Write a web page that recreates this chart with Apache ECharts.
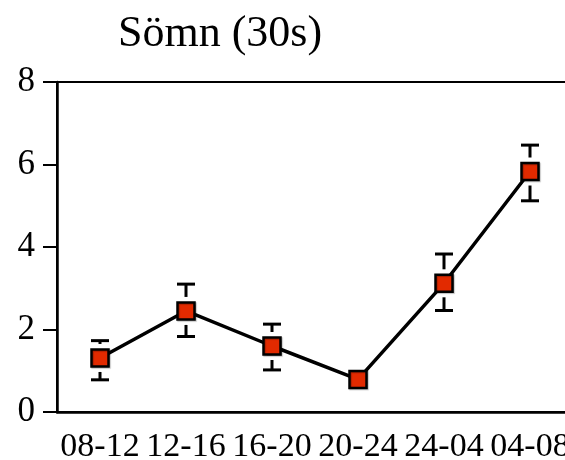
<!DOCTYPE html>
<html>
<head>
<meta charset="utf-8">
<script src="https://cdn.jsdelivr.net/npm/echarts@6/dist/echarts.min.js"></script>
<style>
  html, body { margin: 0; padding: 0; background: #fff; }
  #chart { width: 565px; height: 460px; }
</style>
</head>
<body>
<div id="chart"></div>
<script>
// Time-of-day blocks (hours)
const categories = ['08-12', '12-16', '16-20', '20-24', '24-04', '04-08'];
// Mean sleep (30 s epochs) per block
const meanValues = [1.31, 2.45, 1.60, 0.79, 3.12, 5.83];
// Error bar bounds
const lowerValues = [0.78, 1.83, 1.02, 0.67, 2.46, 5.12];
const upperValues = [1.73, 3.10, 2.13, 0.91, 3.83, 6.47];
const yTicks = [0, 2, 4, 6, 8];

const FONT = '"Liberation Serif", "Times New Roman", serif';
const MARKER = 17;

const errorData = categories.map((c, i) => [i, lowerValues[i], upperValues[i], meanValues[i]]);

const chart = echarts.init(document.getElementById('chart'), null, { renderer: 'canvas' });

chart.setOption({
  backgroundColor: '#ffffff',
  animation: false,
  title: {
    text: 'Sömn (30s)',
    left: 113,
    top: 7,
    textStyle: { fontFamily: FONT, fontSize: 44, fontWeight: 'normal', color: '#000' }
  },
  grid: {
    left: 57, top: 82, width: 516, height: 330,
    outerBoundsMode: 'none',
    containLabel: false,
    show: true, borderColor: '#000', borderWidth: 2, backgroundColor: 'transparent'
  },
  xAxis: {
    type: 'category',
    data: categories,
    boundaryGap: true,
    axisLine: { lineStyle: { color: '#000', width: 2.5 } },
    axisTick: { alignWithLabel: true, interval: 0, length: 14, lineStyle: { color: '#000', width: 2.5 } },
    axisLabel: { interval: 0, hideOverlap: false, fontFamily: FONT, fontSize: 34, color: '#000', margin: 18 },
    splitLine: { show: false }
  },
  yAxis: {
    type: 'value',
    min: yTicks[0],
    max: yTicks[yTicks.length - 1],
    interval: 2,
    axisLine: { show: true, lineStyle: { color: '#000', width: 2.5 } },
    axisTick: { show: true, length: 14, lineStyle: { color: '#000', width: 2 } },
    axisLabel: { fontFamily: FONT, fontSize: 35, color: '#000', margin: 22 },
    splitLine: { show: false }
  },
  series: [
    {
      type: 'custom',
      z: 1,
      data: errorData,
      renderItem: function (params, api) {
        const x = api.coord([api.value(0), 0])[0];
        const yLow = api.coord([api.value(0), api.value(1)])[1];
        const yHigh = api.coord([api.value(0), api.value(2)])[1];
        const yMid = api.coord([api.value(0), api.value(3)])[1];
        const half = 9, gap = 14;
        const style = { stroke: '#000', lineWidth: 3 };
        if (yLow - yHigh < 2 * gap) {
          return { type: 'group', children: [] };
        }
        const children = [
          { type: 'line', shape: { x1: x - half, y1: yHigh, x2: x + half, y2: yHigh }, style },
          { type: 'line', shape: { x1: x - half, y1: yLow, x2: x + half, y2: yLow }, style }
        ];
        if (yMid - gap > yHigh) {
          children.push({ type: 'line', shape: { x1: x, y1: yHigh, x2: x, y2: yMid - gap }, style });
        }
        if (yMid + gap < yLow) {
          children.push({ type: 'line', shape: { x1: x, y1: yLow, x2: x, y2: yMid + gap }, style });
        }
        return { type: 'group', children };
      }
    },
    {
      type: 'line',
      z: 3,
      data: meanValues,
      symbol: 'rect',
      symbolSize: MARKER,
      lineStyle: { color: '#000', width: 3.5 },
      itemStyle: {
        color: '#e22a00', borderColor: '#000', borderWidth: 2.5,
        shadowColor: 'rgba(0,0,0,0.25)', shadowOffsetX: 1, shadowOffsetY: 1, shadowBlur: 1
      },
      showSymbol: true
    }
  ]
});
</script>
</body>
</html>
